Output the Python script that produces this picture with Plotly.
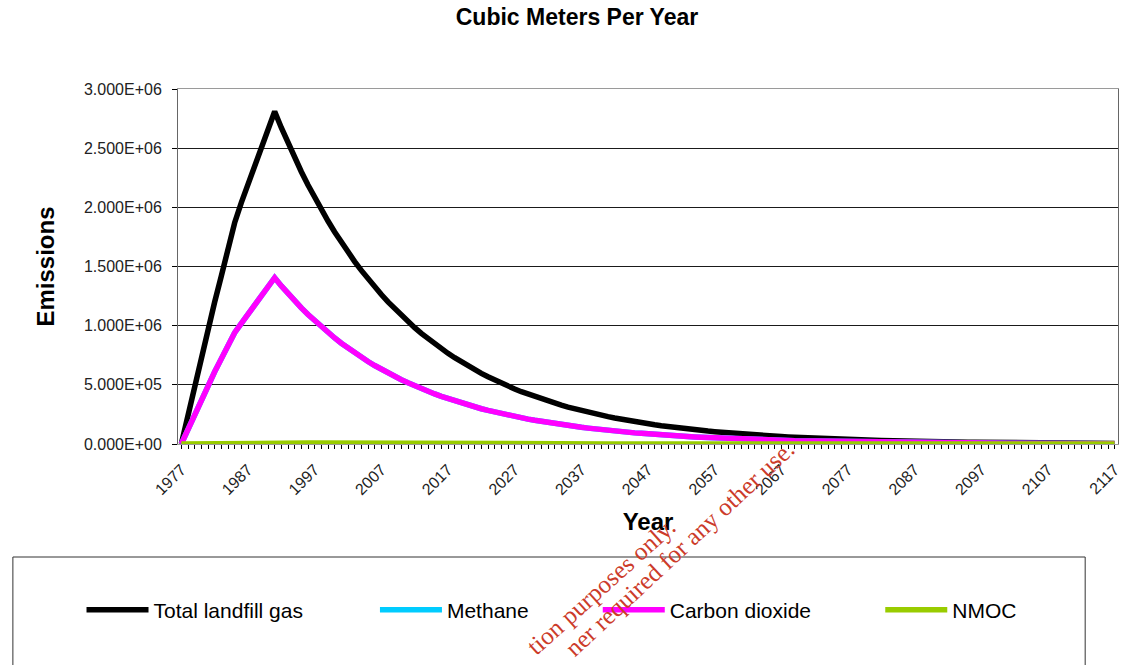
import plotly.graph_objects as go

years = list(range(1977, 2118))

total_landfill_gas = [
    0, 250e3, 500e3, 750e3, 980e3, 1200e3, 1420e3, 1650e3, 1870e3, 2040e3, 2200e3, 2360e3, 2510e3, 2660e3, 2810e3,
    2673e3, 2543e3, 2419e3, 2301e3, 2188e3, 2082e3, 1980e3, 1884e3, 1792e3, 1704e3,
    1621e3, 1542e3, 1467e3, 1395e3, 1327e3, 1263e3, 1201e3, 1143e3, 1087e3, 1034e3,
    983e3, 935e3, 890e3, 846e3, 805e3, 766e3, 729e3, 693e3, 659e3, 627e3,
    597e3, 568e3, 540e3, 514e3, 489e3, 465e3, 442e3, 421e3, 400e3, 381e3,
    362e3, 345e3, 328e3, 312e3, 297e3, 282e3, 268e3, 255e3, 243e3, 231e3,
    220e3, 209e3, 199e3, 189e3, 180e3, 171e3, 163e3, 155e3, 147e3, 140e3,
    133e3, 127e3, 121e3, 115e3, 109e3, 104e3, 99e3, 94e3, 89e3, 85e3,
    81e3, 77e3, 73e3, 70e3, 66e3, 63e3, 60e3, 57e3, 54e3, 52e3,
    49e3, 47e3, 45e3, 42e3, 40e3, 38e3, 37e3, 35e3, 33e3, 31e3,
    30e3, 28e3, 27e3, 26e3, 24e3, 23e3, 22e3, 21e3, 20e3, 19e3,
    18e3, 17e3, 16e3, 15e3, 15e3, 14e3, 13e3, 13e3, 12e3, 11e3,
    11e3, 10e3, 10e3, 9e3, 9e3, 8e3, 8e3, 7e3, 7e3, 7e3,
    6e3, 6e3, 6e3, 5e3, 5e3, 5e3,
]

methane = [
    0, 125e3, 250e3, 380e3, 490e3, 610e3, 720e3, 830e3, 940e3, 1020e3, 1100e3, 1180e3, 1255e3, 1330e3, 1405e3,
    1336e3, 1271e3, 1209e3, 1150e3, 1094e3, 1041e3, 990e3, 942e3, 896e3, 852e3,
    810e3, 771e3, 733e3, 697e3, 663e3, 631e3, 600e3, 571e3, 543e3, 517e3,
    491e3, 467e3, 445e3, 423e3, 402e3, 383e3, 364e3, 346e3, 329e3, 313e3,
    298e3, 284e3, 270e3, 257e3, 244e3, 232e3, 221e3, 210e3, 200e3, 190e3,
    181e3, 172e3, 164e3, 156e3, 148e3, 141e3, 134e3, 127e3, 121e3, 115e3,
    110e3, 104e3, 99e3, 94e3, 90e3, 85e3, 81e3, 77e3, 73e3, 70e3,
    66e3, 63e3, 60e3, 57e3, 54e3, 52e3, 49e3, 47e3, 44e3, 42e3,
    40e3, 38e3, 36e3, 35e3, 33e3, 31e3, 30e3, 28e3, 27e3, 26e3,
    24e3, 23e3, 22e3, 21e3, 20e3, 19e3, 18e3, 17e3, 16e3, 15.5e3,
    15e3, 14e3, 13.5e3, 13e3, 12e3, 11.5e3, 11e3, 10.5e3, 10e3, 9.5e3,
    9e3, 8.5e3, 8e3, 7.5e3, 7.5e3, 7e3, 6.5e3, 6.5e3, 6e3, 5.5e3,
    5.5e3, 5e3, 5e3, 4.5e3, 4.5e3, 4e3, 4e3, 3.5e3, 3.5e3, 3.5e3,
    3e3, 3e3, 3e3, 2.5e3, 2.5e3, 2.5e3,
]

carbon_dioxide = [
    0, 125e3, 250e3, 380e3, 490e3, 610e3, 720e3, 830e3, 940e3, 1020e3, 1100e3, 1180e3, 1255e3, 1330e3, 1405e3,
    1336e3, 1271e3, 1209e3, 1150e3, 1094e3, 1041e3, 990e3, 942e3, 896e3, 852e3,
    810e3, 771e3, 733e3, 697e3, 663e3, 631e3, 600e3, 571e3, 543e3, 517e3,
    491e3, 467e3, 445e3, 423e3, 402e3, 383e3, 364e3, 346e3, 329e3, 313e3,
    298e3, 284e3, 270e3, 257e3, 244e3, 232e3, 221e3, 210e3, 200e3, 190e3,
    181e3, 172e3, 164e3, 156e3, 148e3, 141e3, 134e3, 127e3, 121e3, 115e3,
    110e3, 104e3, 99e3, 94e3, 90e3, 85e3, 81e3, 77e3, 73e3, 70e3,
    66e3, 63e3, 60e3, 57e3, 54e3, 52e3, 49e3, 47e3, 44e3, 42e3,
    40e3, 38e3, 36e3, 35e3, 33e3, 31e3, 30e3, 28e3, 27e3, 26e3,
    24e3, 23e3, 22e3, 21e3, 20e3, 19e3, 18e3, 17e3, 16e3, 15.5e3,
    15e3, 14e3, 13.5e3, 13e3, 12e3, 11.5e3, 11e3, 10.5e3, 10e3, 9.5e3,
    9e3, 8.5e3, 8e3, 7.5e3, 7.5e3, 7e3, 6.5e3, 6.5e3, 6e3, 5.5e3,
    5.5e3, 5e3, 5e3, 4.5e3, 4.5e3, 4e3, 4e3, 3.5e3, 3.5e3, 3.5e3,
    3e3, 3e3, 3e3, 2.5e3, 2.5e3, 2.5e3,
]

nmoc = [
    0, 1.0e3, 2.0e3, 3.0e3, 3.9e3, 4.8e3, 5.7e3, 6.6e3, 7.5e3, 8.2e3, 8.8e3, 9.4e3, 10.0e3, 10.6e3, 11.2e3,
    10.7e3, 10.2e3, 9.7e3, 9.2e3, 8.8e3, 8.3e3, 7.9e3, 7.5e3, 7.2e3, 6.8e3,
    6.5e3, 6.2e3, 5.9e3, 5.6e3, 5.3e3, 5.1e3, 4.8e3, 4.6e3, 4.3e3, 4.1e3,
    3.9e3, 3.7e3, 3.6e3, 3.4e3, 3.2e3, 3.1e3, 2.9e3, 2.8e3, 2.6e3, 2.5e3,
    2.4e3, 2.3e3, 2.2e3, 2.1e3, 2.0e3, 1.9e3, 1.8e3, 1.7e3, 1.7e3, 1.6e3,
    1.5e3, 1.4e3, 1.4e3, 1.3e3, 1.2e3, 1.2e3, 1.1e3, 1.1e3, 1.0e3, 1.0e3,
    0.9e3, 0.9e3, 0.8e3, 0.8e3, 0.8e3, 0.7e3, 0.7e3, 0.7e3, 0.6e3, 0.6e3,
    0.5e3, 0.5e3, 0.5e3, 0.5e3, 0.5e3, 0.4e3, 0.4e3, 0.4e3, 0.4e3, 0.4e3,
    0.3e3, 0.3e3, 0.3e3, 0.3e3, 0.3e3, 0.3e3, 0.3e3, 0.3e3, 0.3e3, 0.3e3,
    0.2e3, 0.2e3, 0.2e3, 0.2e3, 0.2e3, 0.2e3, 0.2e3, 0.2e3, 0.2e3, 0.2e3,
    0.1e3, 0.1e3, 0.1e3, 0.1e3, 0.1e3, 0.1e3, 0.1e3, 0.1e3, 0.1e3, 0.1e3,
    0.1e3, 0.1e3, 0.1e3, 0.1e3, 0.1e3, 0.1e3, 0.1e3, 0.1e3, 0.1e3, 0.1e3,
    0.1e3, 0.1e3, 0.1e3, 0.1e3, 0.1e3, 0.1e3, 0.1e3, 0.1e3, 0.1e3, 0.1e3,
    0.1e3, 0.1e3, 0.1e3, 0.1e3, 0.1e3, 0.1e3,
]

series_names = ["Total landfill gas", "Methane", "Carbon dioxide", "NMOC"]
series_colors = ["#000000", "#00CCFF", "#FF00FF", "#99CC00"]

y_tick_values = [0, 5e5, 1e6, 1.5e6, 2e6, 2.5e6, 3e6]
y_tick_labels = ["0.000E+00", "5.000E+05", "1.000E+06", "1.500E+06", "2.000E+06", "2.500E+06", "3.000E+06"]
x_tick_values = list(range(1977, 2118, 10))
x_tick_labels = [str(v) for v in x_tick_values]

# page geometry (body margin removed so the figure starts at the page corner)
W, H = 1124, 665
L, R, T, B = 178, 1123, 89, 444   # plot area in page pixels


def px_x(px):
    return (px - L) / (R - L)


def px_y(py):
    return (B - py) / (B - T)


fig = go.Figure()
legend_ids = ["legend", "legend2", "legend3", "legend4"]
for name, vals, color, lg in zip(series_names, [total_landfill_gas, methane, carbon_dioxide, nmoc],
                                 series_colors, legend_ids):
    fig.add_trace(go.Scatter(x=years, y=vals, name=name, mode="lines",
                             line=dict(color=color, width=5.5), legend=lg))

font_main = "Liberation Sans, Arial, sans-serif"
legend_x_px = [81, 376, 600, 884]
legend_common = dict(orientation="h", yanchor="middle", xanchor="left",
                     font=dict(family=font_main, size=21, color="#000000"),
                     bgcolor="rgba(0,0,0,0)", borderwidth=0, itemwidth=62)
layout_legends = {}
for lg, xp in zip(legend_ids, legend_x_px):
    layout_legends[lg] = dict(legend_common, x=px_x(xp), y=px_y(610))

fig.update_layout(
    width=W, height=H,
    margin=dict(l=L, r=W - R, t=T, b=H - B),
    paper_bgcolor="#FFFFFF", plot_bgcolor="#FFFFFF",
    showlegend=True,
    title=dict(text="<b>Cubic Meters Per Year</b>", x=577 / W, xanchor="center",
               y=1 - 17 / H, yanchor="middle",
               font=dict(family=font_main, size=23, color="#000000")),
    xaxis=dict(range=[1976.5, 2117.5], tickmode="array", tickvals=x_tick_values, ticktext=x_tick_labels,
               tickangle=-45, ticks="outside", ticklen=4, tickcolor="#000000",
               ticklabeloverflow="allow", ticklabelstandoff=5,
               minor=dict(ticks="outside", dtick=1, tick0=1977, ticklen=4, tickcolor="#000000", showgrid=False),
               showgrid=False, zeroline=False, showline=True, linecolor="#9A9A9A", mirror=True,
               layer="below traces",
               tickfont=dict(family=font_main, size=16, color="#222222"),
               title=dict(text="<b>Year</b>", font=dict(family=font_main, size=24, color="#000000"),
                          standoff=16)),
    yaxis=dict(range=[0, 3e6], tickmode="array", tickvals=y_tick_values, ticktext=y_tick_labels,
               ticks="outside", ticklen=5, tickcolor="#000000", ticklabelstandoff=7,
               showgrid=True, gridcolor="#1A1A1A", gridwidth=1, zeroline=False,
               showline=True, linecolor="#666666", mirror=True, layer="below traces",
               tickfont=dict(family=font_main, size=16, color="#222222"),
               title=dict(text="<b>Emissions</b>", font=dict(family=font_main, size=24, color="#000000"),
                          standoff=22)),
    **layout_legends,
)

# legend frame
fig.add_shape(type="rect", xref="paper", yref="paper",
              x0=px_x(12), x1=px_x(1090), y0=px_y(557), y1=px_y(700),
              line=dict(color="#333333", width=1), fillcolor="rgba(0,0,0,0)", layer="below")

# watermark (partially visible)
wm_font = dict(family="Liberation Serif, Times New Roman, serif", size=25, color="#CC3B2A")
fig.add_annotation(xref="paper", yref="paper", x=px_x(603), y=px_y(586), text="tion purposes only.",
                   textangle=-42, showarrow=False, font=wm_font, xanchor="center", yanchor="middle")
fig.add_annotation(xref="paper", yref="paper", x=px_x(682), y=px_y(548), text="ner required for any other use.",
                   textangle=-43, showarrow=False, font=wm_font, xanchor="center", yanchor="middle")

fig.write_html("out.html", config={"displayModeBar": False},
               post_script="document.body.style.margin='0';document.body.style.overflow='hidden';")
